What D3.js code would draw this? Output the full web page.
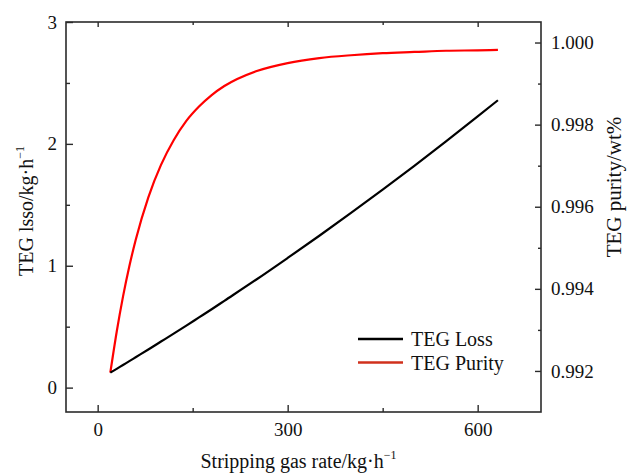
<!DOCTYPE html>
<html lang="en">
<head>
<meta charset="UTF-8">
<style>
    body { margin: 0; background: #fff; }
    svg text { font-family: "Liberation Serif", "Times New Roman", serif; fill: #111; }
</style>
</head>
<body>
<svg width="628" height="474"></svg>
<script src="https://d3js.org/d3.v7.min.js"></script>
<script>

// data
var gasRate = [20, 30, 40, 50, 60, 80, 100, 120, 140, 160, 180, 200, 250, 300, 350, 400, 450, 500, 550, 600, 632];
var tegLoss = [0.123, 0.154, 0.186, 0.217, 0.249, 0.313, 0.378, 0.443, 0.509, 0.576, 0.643, 0.712, 0.885, 1.064, 1.246, 1.433, 1.624, 1.820, 2.020, 2.225, 2.358];
var tegPurity = [0.99196, 0.99295, 0.99381, 0.99455, 0.99519, 0.99623, 0.99702, 0.99762, 0.99809, 0.99844, 0.99872, 0.99894, 0.99930, 0.99950, 0.99962, 0.99969, 0.99974, 0.99977, 0.99980, 0.99981, 0.99982];

var xTicks = [0, 300, 600];
var xMinor = [150, 450];
var yLeftTicks = [0, 1, 2, 3];
var yLeftMinor = [0.5, 1.5, 2.5];
var yRightTicks = [0.992, 0.994, 0.996, 0.998, 1.000];
var yRightMinor = [0.993, 0.995, 0.997, 0.999];

var seriesNames = ["TEG Loss", "TEG Purity"];
var seriesColors = ["#000000", "#ff0000"];

// plot box
var margin = {top: 22, right: 87, bottom: 62, left: 66},
    width = 628 - margin.left - margin.right,
    height = 474 - margin.top - margin.bottom;

var svg = d3.select("svg")
  .append("g")
    .attr("transform", "translate(" + margin.left + "," + margin.top + ")");

// scales
var x = d3.scaleLinear().domain([-50, 700]).range([0, width]);
var yL = d3.scaleLinear().domain([-0.2, 3]).range([height, 0]);
var yR = d3.scaleLinear().domain([0.991, 1.0005]).range([height, 0]);

var axisColor = "#2b2b2b";

function styleAxis(g) {
  g.select(".domain").remove();
  g.selectAll(".tick line").attr("stroke", axisColor).attr("stroke-width", 1.4);
  g.selectAll(".tick text").attr("font-size", "19px").attr("fill", "#111");
}

// bottom axis, ticks inside
svg.append("g")
  .attr("transform", "translate(0," + height + ")")
  .call(d3.axisBottom(x).tickValues(xTicks).tickSize(-7).tickPadding(11).tickFormat(d3.format("d")))
  .call(styleAxis);
svg.append("g")
  .attr("transform", "translate(0," + height + ")")
  .call(d3.axisBottom(x).tickValues(xMinor).tickSize(-4).tickFormat(""))
  .call(styleAxis);

// top axis mirror, no labels
svg.append("g")
  .call(d3.axisTop(x).tickValues(xTicks).tickSize(-5).tickFormat(""))
  .call(styleAxis);
svg.append("g")
  .call(d3.axisTop(x).tickValues(xMinor).tickSize(-3).tickFormat(""))
  .call(styleAxis);

// left axis
svg.append("g")
  .call(d3.axisLeft(yL).tickValues(yLeftTicks).tickSize(-7).tickPadding(9).tickFormat(d3.format("d")))
  .call(styleAxis);
svg.append("g")
  .call(d3.axisLeft(yL).tickValues(yLeftMinor).tickSize(-4).tickFormat(""))
  .call(styleAxis);

// right axis
svg.append("g")
  .attr("transform", "translate(" + width + ",0)")
  .call(d3.axisRight(yR).tickValues(yRightTicks).tickSize(-6).tickPadding(10).tickFormat(d3.format(".3f")))
  .call(styleAxis);
svg.append("g")
  .attr("transform", "translate(" + width + ",0)")
  .call(d3.axisRight(yR).tickValues(yRightMinor).tickSize(-3).tickFormat(""))
  .call(styleAxis);

// frame
svg.append("rect")
  .attr("width", width)
  .attr("height", height)
  .attr("fill", "none")
  .attr("stroke", axisColor)
  .attr("stroke-width", 1.6);

// lines
var lossData = gasRate.map(function(d, i) { return [d, tegLoss[i]]; });
var purityData = gasRate.map(function(d, i) { return [d, tegPurity[i]]; });

var lossLine = d3.line()
  .x(function(d) { return x(d[0]); })
  .y(function(d) { return yL(d[1]); })
  .curve(d3.curveMonotoneX);
var purityLine = d3.line()
  .x(function(d) { return x(d[0]); })
  .y(function(d) { return yR(d[1]); })
  .curve(d3.curveMonotoneX);

svg.append("path")
  .datum(purityData)
  .attr("d", purityLine)
  .attr("fill", "none")
  .attr("stroke", seriesColors[1])
  .attr("stroke-width", 2.2);

svg.append("path")
  .datum(lossData)
  .attr("d", lossLine)
  .attr("fill", "none")
  .attr("stroke", seriesColors[0])
  .attr("stroke-width", 2.2);

// legend
var legend = svg.append("g").attr("transform", "translate(292,317)");
seriesNames.forEach(function(name, i) {
  legend.append("line")
    .attr("x1", 0).attr("x2", 45)
    .attr("y1", i * 23.5).attr("y2", i * 23.5)
    .attr("stroke", i == 0 ? seriesColors[0] : "#d0301c")
    .attr("stroke-width", 2.4);
  legend.append("text")
    .attr("x", 53)
    .attr("y", i * 23.5 + 7)
    .attr("font-size", "20px")
    .text(name);
});

// axis titles
var xt = svg.append("text")
  .attr("x", width / 2 - 5)
  .attr("y", height + 56)
  .attr("text-anchor", "middle")
  .attr("font-size", "20px");
xt.append("tspan").text("Stripping gas rate/kg\u00b7h");
xt.append("tspan").attr("dy", -9).attr("font-size", "12px").text("\u22121");

var yt = svg.append("text")
  .attr("transform", "translate(-33," + (height / 2 - 6) + ") rotate(-90)")
  .attr("text-anchor", "middle")
  .attr("font-size", "20px");
yt.append("tspan").text("TEG lsso/kg\u00b7h");
yt.append("tspan").attr("dy", -9).attr("font-size", "12px").text("\u22121");

svg.append("text")
  .attr("transform", "translate(" + (width + 80) + "," + (height / 2 - 30) + ") rotate(-90)")
  .attr("text-anchor", "middle")
  .attr("font-size", "21px")
  .text("TEG purity/wt%");

</script>
</body>
</html>
